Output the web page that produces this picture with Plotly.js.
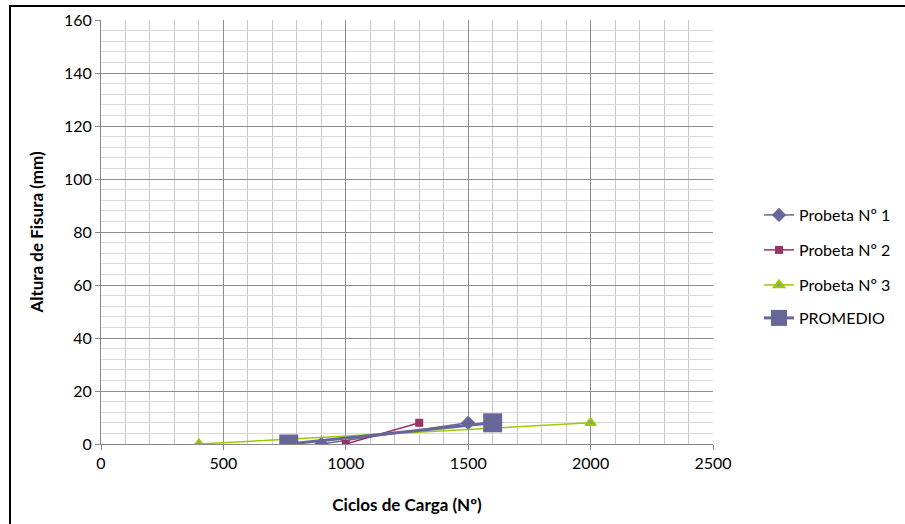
<!DOCTYPE html>
<html>
<head>
<meta charset="utf-8">
<script src="https://cdn.plot.ly/plotly-3.0.1.min.js"></script>
<style>
html,body{margin:0;padding:0;background:#fff;}
#wrap{position:relative;width:905px;height:524px;}
#chart{width:905px;height:524px;}
#frame{position:absolute;left:9px;top:5px;width:900px;height:530px;border-left:2px solid #000;border-top:2px solid #000;pointer-events:none;box-sizing:border-box;}
</style>
</head>
<body>
<div id="wrap"><div id="chart"></div><div id="frame"></div></div>
<script>
// Data
const seriesNames = ["Probeta Nº 1", "Probeta Nº 2", "Probeta Nº 3", "PROMEDIO"];
const p1x = [900, 1500];
const p1y = [0, 8];
const p2x = [1000, 1300];
const p2y = [0, 8];
const p3x = [400, 2000];
const p3y = [0, 8];
const promX = [767, 1600];
const promY = [0, 8];
const xTicks = [0, 500, 1000, 1500, 2000, 2500];
const yTicks = [0, 20, 40, 60, 80, 100, 120, 140, 160];

const FONT = "Lato, 'Open Sans', sans-serif";

const traces = [
  {x: p1x, y: p1y, name: seriesNames[0], mode: "lines+markers", legend: "legend",
   line: {color: "#666699", width: 1.5},
   marker: {symbol: "diamond", size: 11, color: "#666699"}},
  {x: p2x, y: p2y, name: seriesNames[1], mode: "lines+markers", legend: "legend2",
   line: {color: "#993366", width: 1.5},
   marker: {symbol: "square", size: 8, color: "#993366"}},
  {x: p3x, y: p3y, name: seriesNames[2], mode: "lines+markers", legend: "legend3",
   line: {color: "#99CC00", width: 1.5},
   marker: {symbol: "triangle-up", size: 9, color: "#999999", line: {color: "#99CC00", width: 2}}},
  {x: promX, y: promY, name: seriesNames[3], mode: "lines+markers", legend: "legend4",
   line: {color: "#666699", width: 3},
   marker: {symbol: "square", size: 19, color: "#666699"}}
];

function leg(yPix) {
  return {xref: "container", yref: "container",
          x: 759 / 905, xanchor: "left", y: 1 - yPix / 524, yanchor: "middle",
          font: {family: FONT, size: 16, color: "#000"}, bgcolor: "rgba(0,0,0,0)",
          itemwidth: 30, tracegroupgap: 0};
}

const layout = {
  width: 905, height: 524,
  margin: {l: 101, r: 192, t: 20, b: 80},
  paper_bgcolor: "#fff", plot_bgcolor: "#fff",
  font: {family: FONT, size: 16, color: "#000"},
  showlegend: true,
  legend: leg(215), legend2: leg(250), legend3: leg(285), legend4: leg(318),
  xaxis: {
    range: [0, 2500], tickvals: xTicks, ticktext: xTicks.map(String),
    showgrid: true, gridcolor: "#8c8c8c", gridwidth: 1,
    minor: {dtick: 100, tick0: 0, showgrid: true, gridcolor: "#c8c8c8", gridwidth: 1},
    showline: true, linecolor: "#868686", linewidth: 1,
    ticks: "outside", ticklen: 5, tickcolor: "#868686",
    zeroline: false, automargin: false,
    tickfont: {family: FONT, size: 16, color: "#000"},
    title: {text: "Ciclos de Carga (Nº)", font: {family: FONT, size: 17, color: "#000", weight: "bold"}, standoff: 27}
  },
  yaxis: {
    range: [0, 160], tickvals: yTicks, ticktext: yTicks.map(String),
    showgrid: true, gridcolor: "#8c8c8c", gridwidth: 1,
    minor: {dtick: 4, tick0: 0, showgrid: true, gridcolor: "#dadada", gridwidth: 1},
    showline: true, linecolor: "#868686", linewidth: 1,
    ticks: "outside", ticklen: 5, tickcolor: "#868686",
    zeroline: false, automargin: false,
    tickfont: {family: FONT, size: 16, color: "#000"},
    title: {text: "Altura de Fisura (mm)", font: {family: FONT, size: 17, color: "#000", weight: "bold"}, standoff: 16}
  }
};

Plotly.newPlot("chart", traces, layout, {displayModeBar: false, staticPlot: true});
</script>
</body>
</html>
